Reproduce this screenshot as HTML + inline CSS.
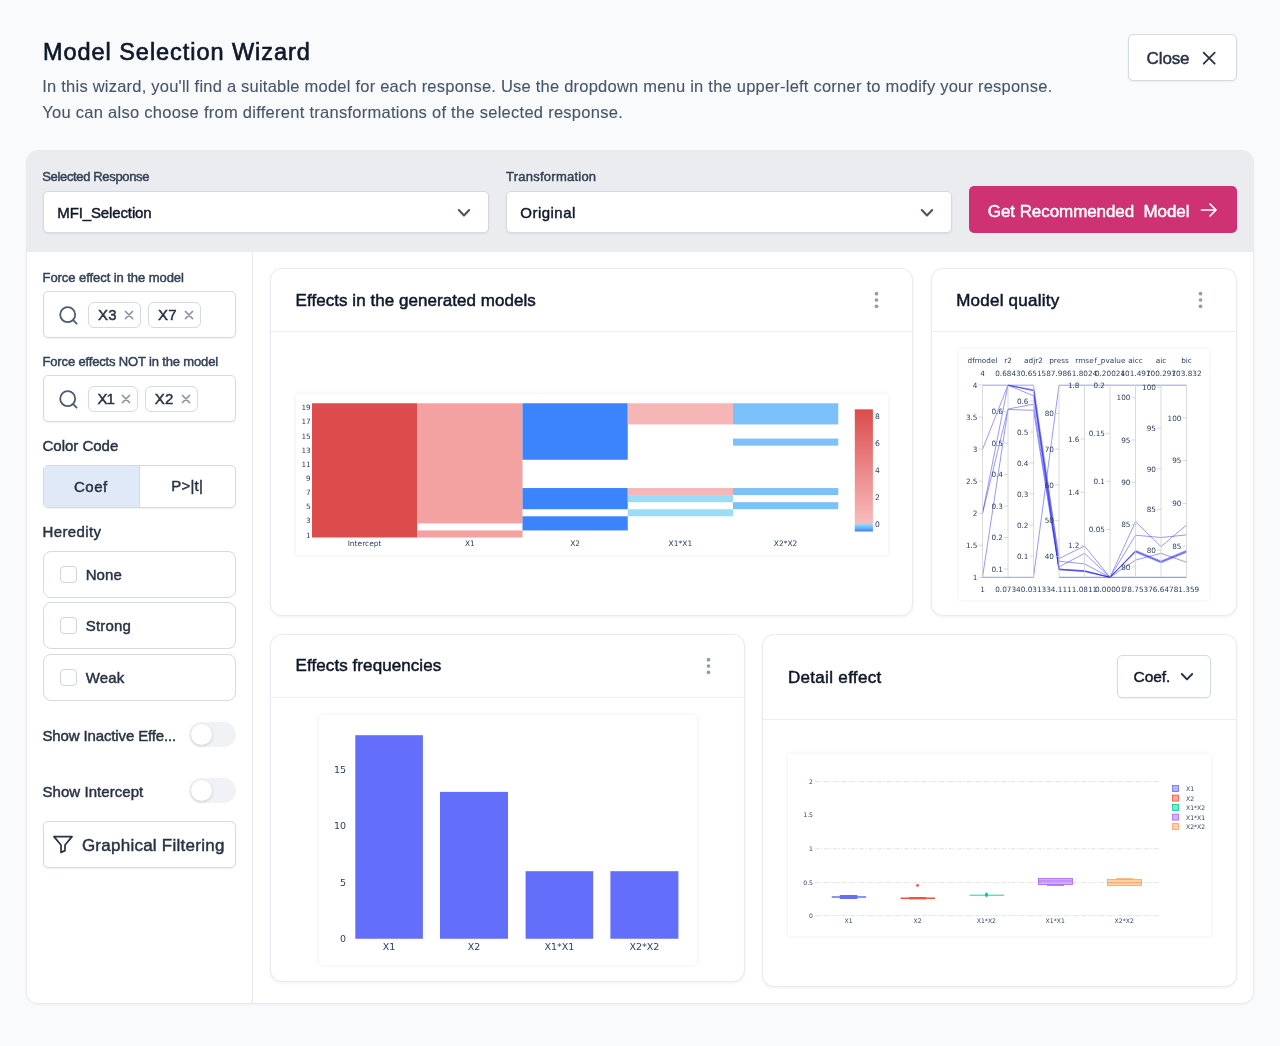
<!DOCTYPE html>
<html lang="en">
<head>
<meta charset="utf-8">
<title>Model Selection Wizard</title>
<style>
*{box-sizing:border-box;margin:0;padding:0}
html,body{width:1280px;height:1046px;overflow:hidden}
body{background:#f9fafb;font-family:"Liberation Sans",sans-serif;color:#273244;position:relative}
.abs{position:absolute}
.t{position:absolute;white-space:nowrap;line-height:1;-webkit-text-stroke:0.45px currentColor}
.title{left:43px;top:40.5px;font-size:23.5px;color:#0f172a;-webkit-text-stroke:0.65px currentColor}
.desc{left:43px;font-size:16.5px;color:#475569;-webkit-text-stroke:0.1px currentColor}
.btn{position:absolute;background:#fff;border:1px solid #d5d9e2;border-radius:5px;box-shadow:0 1px 2px rgba(16,24,40,.06)}
.container{position:absolute;left:26px;top:150px;width:1228px;height:854px;background:#fff;border:1px solid #e8eaef;border-radius:12px;overflow:hidden;box-shadow:0 1px 2px rgba(16,24,40,.04)}
.band{position:absolute;left:0;top:0;width:100%;height:101px;background:#ebecf0}
.side{position:absolute;left:0;top:101px;width:226px;height:753px;border-right:1px solid #e5e7ee;background:#fff}
.lbl{font-size:13px;color:#334155}
.sel{position:absolute;height:42px;background:#fff;border:1px solid #d5d9e2;border-radius:5px;box-shadow:0 1px 2px rgba(16,24,40,.08)}
.card{position:absolute;background:#fff;border:1px solid #e9ebf0;border-radius:12px;box-shadow:0 1px 3px rgba(16,24,40,.07)}
.card .sep{position:absolute;left:0;right:0;height:1px;background:#eceef2}
.ctitle{font-size:17px;color:#0f172a;-webkit-text-stroke:0.5px currentColor}
.chip{position:absolute;height:26px;border:1px solid #d5d9e2;border-radius:6px;background:#fff}
.inp{position:absolute;left:43px;width:193px;height:47px;border:1px solid #d5d9e2;border-radius:5px;background:#fff;box-shadow:0 1px 2px rgba(16,24,40,.06)}
.hbox{position:absolute;left:43px;width:193px;height:47px;border:1px solid #d5d9e2;border-radius:8px;background:#fff}
.cb{position:absolute;left:16px;top:14px;width:17px;height:17px;border:1px solid #cfd4de;border-radius:4px;background:#fff}
.tog{position:absolute;left:189px;width:47px;height:25px;border-radius:13px;background:#f1f2f6}
.tog i{position:absolute;left:2px;top:2px;width:21px;height:21px;border-radius:50%;background:#fff;box-shadow:0 1px 3px rgba(16,24,40,.18)}
.img{position:absolute;background:#fff;box-shadow:0 0 4px rgba(16,24,40,.08)}
svg{position:absolute;overflow:visible}
svg text{font-family:"DejaVu Sans","Liberation Sans",sans-serif;fill:#2a3f5f}
</style>
</head>
<body>

<!-- Header -->
<div class="t title" id="t_title" style="left:43.0px;letter-spacing:0.950px">Model Selection Wizard</div>
<div class="t desc" id="t_d1" style="left:42.3px;top:78px;letter-spacing:0.224px">In this wizard, you'll find a suitable model for each response. Use the dropdown menu in the upper-left corner to modify your response.</div>
<div class="t desc" id="t_d2" style="left:42.3px;top:104px;letter-spacing:0.267px">You can also choose from different transformations of the selected response.</div>

<div class="btn" style="left:1128px;top:34px;width:109px;height:47px"></div>
<div class="t" id="t_close" style="left:1146.6px;top:49.8px;font-size:17px;color:#273244;letter-spacing:-0.136px">Close</div>
<svg style="left:1202px;top:50.5px" width="15" height="15" viewBox="0 0 15 15"><path d="M1.7 1.7 L12.7 12.7 M12.7 1.7 L1.7 12.7" stroke="#273244" stroke-width="1.8" fill="none" stroke-linecap="round"/></svg>

<!-- Container -->
<div class="container">
  <div class="band"></div>
  <div class="side"></div>
</div>

<!-- Band contents (page coords) -->
<div class="t lbl" id="t_sr" style="left:42.3px;top:170px;letter-spacing:-0.353px">Selected Response</div>
<div class="sel" style="left:43px;top:191px;width:446px"></div>
<div class="t" id="t_mfi" style="left:57.3px;top:204.5px;font-size:15px;color:#111827;letter-spacing:-0.126px">MFI_Selection</div>
<svg style="left:457px;top:207.6px" width="14" height="10" viewBox="0 0 14 10"><path d="M1.8 2 L7 7.4 L12.2 2" stroke="#4b5563" stroke-width="2.1" fill="none" stroke-linecap="round" stroke-linejoin="round"/></svg>

<div class="t lbl" id="t_tr" style="left:506.1px;top:170px;letter-spacing:0.236px">Transformation</div>
<div class="sel" style="left:506px;top:191px;width:446px"></div>
<div class="t" id="t_orig" style="left:520.3px;top:204.5px;font-size:15px;color:#111827;letter-spacing:0.475px">Original</div>
<svg style="left:920px;top:207.6px" width="14" height="10" viewBox="0 0 14 10"><path d="M1.8 2 L7 7.4 L12.2 2" stroke="#4b5563" stroke-width="2.1" fill="none" stroke-linecap="round" stroke-linejoin="round"/></svg>

<div class="abs" style="left:969px;top:186px;width:268px;height:47px;background:#cf3273;border-radius:5px"></div>
<div class="t" id="t_get" style="left:987.8px;top:202.5px;font-size:17px;color:#fff;letter-spacing:-0.071px">Get Recommended&nbsp; Model</div>
<svg style="left:1200px;top:202px" width="18" height="16" viewBox="0 0 18 16"><path d="M1.5 8 H16 M10 2 L16 8 L10 14" stroke="#fff" stroke-width="1.7" fill="none" stroke-linecap="round" stroke-linejoin="round"/></svg>

<!-- SIDEBAR -->
<div class="t lbl" id="t_f1" style="left:42.5px;top:271px;letter-spacing:-0.060px">Force effect in the model</div>
<div class="inp" style="top:291px"></div>
<svg style="left:58px;top:305px" width="21" height="21" viewBox="0 0 21 21"><circle cx="9.7" cy="9.7" r="7.5" stroke="#4e5a70" stroke-width="1.8" fill="none"/><path d="M15.2 15.2 L18.6 18.6" stroke="#4e5a70" stroke-width="1.8" stroke-linecap="round"/></svg>
<div class="chip" style="left:88px;top:302px;width:53px"></div>
<div class="t" id="t_x3" style="left:98.0px;top:307px;font-size:15px;color:#273244;letter-spacing:0.196px">X3</div>
<svg style="left:124px;top:310px" width="10" height="10" viewBox="0 0 10 10"><path d="M1.4 1.4 L8.6 8.6 M8.6 1.4 L1.4 8.6" stroke="#8c96a8" stroke-width="1.5" fill="none" stroke-linecap="round"/></svg>
<div class="chip" style="left:148px;top:302px;width:53px"></div>
<div class="t" id="t_x7" style="left:158.1px;top:307px;font-size:15px;color:#273244;letter-spacing:0.195px">X7</div>
<svg style="left:184px;top:310px" width="10" height="10" viewBox="0 0 10 10"><path d="M1.4 1.4 L8.6 8.6 M8.6 1.4 L1.4 8.6" stroke="#8c96a8" stroke-width="1.5" fill="none" stroke-linecap="round"/></svg>

<div class="t lbl" id="t_f2" style="left:42.5px;top:355px;letter-spacing:-0.155px">Force effects NOT in the model</div>
<div class="inp" style="top:375px"></div>
<svg style="left:58px;top:389px" width="21" height="21" viewBox="0 0 21 21"><circle cx="9.7" cy="9.7" r="7.5" stroke="#4e5a70" stroke-width="1.8" fill="none"/><path d="M15.2 15.2 L18.6 18.6" stroke="#4e5a70" stroke-width="1.8" stroke-linecap="round"/></svg>
<div class="chip" style="left:88px;top:386px;width:50px"></div>
<div class="t" id="t_x1" style="left:97.5px;top:391px;font-size:15px;color:#273244;letter-spacing:-0.930px">X1</div>
<svg style="left:121px;top:394px" width="10" height="10" viewBox="0 0 10 10"><path d="M1.4 1.4 L8.6 8.6 M8.6 1.4 L1.4 8.6" stroke="#8c96a8" stroke-width="1.5" fill="none" stroke-linecap="round"/></svg>
<div class="chip" style="left:145px;top:386px;width:53px"></div>
<div class="t" id="t_x2" style="left:154.7px;top:391px;font-size:15px;color:#273244;letter-spacing:0.275px">X2</div>
<svg style="left:181px;top:394px" width="10" height="10" viewBox="0 0 10 10"><path d="M1.4 1.4 L8.6 8.6 M8.6 1.4 L1.4 8.6" stroke="#8c96a8" stroke-width="1.5" fill="none" stroke-linecap="round"/></svg>

<div class="t" id="t_cc" style="left:42.5px;top:438px;font-size:15px;color:#273244;letter-spacing:-0.013px">Color Code</div>
<div class="abs" style="left:43px;top:465px;width:193px;height:43px;border:1px solid #d5d9e2;border-radius:5px;background:#fff;overflow:hidden;box-shadow:0 1px 2px rgba(16,24,40,.06)"><div class="abs" style="left:0;top:0;width:96px;height:100%;background:#dfe9f7;border-right:1px solid #d5d9e2"></div></div>
<div class="t" id="t_coef" style="left:74.0px;top:478.6px;font-size:15px;color:#273244;letter-spacing:0.513px">Coef</div>
<div class="t" id="t_pt" style="left:171.2px;top:478px;font-size:15px;color:#273244;letter-spacing:0.223px">P&gt;|t|</div>

<div class="t" id="t_her" style="left:42.5px;top:524px;font-size:15px;color:#273244;letter-spacing:0.374px">Heredity</div>
<div class="hbox" style="top:551px"><div class="cb"></div></div>
<div class="t" id="t_none" style="left:85.7px;top:567px;font-size:15px;color:#273244;letter-spacing:0.059px">None</div>
<div class="hbox" style="top:602px"><div class="cb"></div></div>
<div class="t" id="t_strong" style="left:85.7px;top:618px;font-size:15px;color:#273244;letter-spacing:0.216px">Strong</div>
<div class="hbox" style="top:654px"><div class="cb"></div></div>
<div class="t" id="t_weak" style="left:85.7px;top:669.5px;font-size:15px;color:#273244;letter-spacing:0.132px">Weak</div>

<div class="t" id="t_sie" style="left:42.5px;top:727.5px;font-size:15px;color:#273244;letter-spacing:-0.134px">Show Inactive Effe...</div>
<div class="tog" style="top:722px"><i></i></div>
<div class="t" id="t_si" style="left:42.5px;top:783.5px;font-size:15px;color:#273244;letter-spacing:0.056px">Show Intercept</div>
<div class="tog" style="top:778px"><i></i></div>

<div class="btn" style="left:43px;top:821px;width:193px;height:47px"></div>
<svg style="left:52px;top:834px" width="22" height="21" viewBox="0 0 22 21"><path d="M2 2.6 H20 L13 11 V16.6 L9 18.4 V11 Z" stroke="#273244" stroke-width="1.7" fill="none" stroke-linejoin="round" stroke-linecap="round"/></svg>
<div class="t" id="t_gf" style="left:81.9px;top:837px;font-size:17px;color:#273244;letter-spacing:0.250px">Graphical Filtering</div>

<!-- MAIN -->
<div class="card" style="left:270px;top:268px;width:643px;height:348px"><div class="sep" style="top:62px"></div></div>
<div class="t ctitle" id="t_c1" style="left:295.6px;top:292px;letter-spacing:0.047px">Effects in the generated models</div>
<svg style="left:874.4px;top:291.1px" width="5" height="18" viewBox="0 0 5 18"><circle cx="2.5" cy="2.7" r="1.85" fill="#959cab"/><circle cx="2.5" cy="9" r="1.85" fill="#959cab"/><circle cx="2.5" cy="15.3" r="1.85" fill="#959cab"/></svg>
<div class="img" style="left:295.5px;top:394px;width:592.5px;height:161px"></div>
<svg style="left:0;top:0" width="1280" height="1046" viewBox="0 0 1280 1046"><rect x="312.00" y="403.25" width="105.25" height="134.25" fill="#dc4c4c"/><rect x="417.25" y="530.43" width="105.25" height="7.07" fill="#f4a1a1"/><rect x="417.25" y="403.25" width="105.25" height="120.12" fill="#f4a1a1"/><rect x="522.50" y="516.30" width="105.25" height="14.13" fill="#3b84fb"/><rect x="522.50" y="488.04" width="105.25" height="21.20" fill="#3b84fb"/><rect x="522.50" y="403.25" width="105.25" height="56.53" fill="#3b84fb"/><rect x="627.75" y="509.24" width="105.25" height="7.07" fill="#9ddcf6"/><rect x="627.75" y="495.11" width="105.25" height="7.07" fill="#9ddcf6"/><rect x="627.75" y="488.04" width="105.25" height="7.07" fill="#f7b6b6"/><rect x="627.75" y="403.25" width="105.25" height="21.20" fill="#f7b6b6"/><rect x="733.00" y="502.17" width="105.25" height="7.07" fill="#7dc1fb"/><rect x="733.00" y="488.04" width="105.25" height="7.07" fill="#7dc1fb"/><rect x="733.00" y="438.58" width="105.25" height="7.07" fill="#7dc1fb"/><rect x="733.00" y="403.25" width="105.25" height="21.20" fill="#7dc1fb"/></svg>
<svg style="left:0;top:0" width="1280" height="1046" viewBox="0 0 1280 1046"><defs><linearGradient id="cbar" x1="0" y1="0" x2="0" y2="1"><stop offset="0" stop-color="#dc4c4c"/><stop offset="0.935" stop-color="#f8bcbc"/><stop offset="0.936" stop-color="#9ddcf6"/><stop offset="0.96" stop-color="#7dc1fb"/><stop offset="1" stop-color="#3b82f6"/></linearGradient></defs><rect x="854.8" y="409.3" width="18.1" height="122.2" fill="url(#cbar)"/><text x="875" y="418.8" font-size="7.6">8</text><text x="875" y="445.7" font-size="7.6">6</text><text x="875" y="472.7" font-size="7.6">4</text><text x="875" y="499.7" font-size="7.6">2</text><text x="875" y="526.8" font-size="7.6">0</text><text x="310.7" y="537.5" font-size="7.3" text-anchor="end">1</text><text x="310.7" y="523.3" font-size="7.3" text-anchor="end">3</text><text x="310.7" y="509.2" font-size="7.3" text-anchor="end">5</text><text x="310.7" y="495.1" font-size="7.3" text-anchor="end">7</text><text x="310.7" y="480.9" font-size="7.3" text-anchor="end">9</text><text x="310.7" y="466.8" font-size="7.3" text-anchor="end">11</text><text x="310.7" y="452.7" font-size="7.3" text-anchor="end">13</text><text x="310.7" y="438.5" font-size="7.3" text-anchor="end">15</text><text x="310.7" y="424.4" font-size="7.3" text-anchor="end">17</text><text x="310.7" y="410.3" font-size="7.3" text-anchor="end">19</text><text x="364.6" y="546" font-size="7.5" text-anchor="middle">Intercept</text><text x="469.9" y="546" font-size="7.5" text-anchor="middle">X1</text><text x="575.1" y="546" font-size="7.5" text-anchor="middle">X2</text><text x="680.4" y="546" font-size="7.5" text-anchor="middle">X1*X1</text><text x="785.6" y="546" font-size="7.5" text-anchor="middle">X2*X2</text></svg>
<div class="card" style="left:930.5px;top:268px;width:306.5px;height:348px"><div class="sep" style="top:62px"></div></div>
<div class="t ctitle" id="t_c2" style="left:956.2px;top:292px;letter-spacing:0.233px">Model quality</div>
<svg style="left:1198.3px;top:291.1px" width="5" height="18" viewBox="0 0 5 18"><circle cx="2.5" cy="2.7" r="1.85" fill="#959cab"/><circle cx="2.5" cy="9" r="1.85" fill="#959cab"/><circle cx="2.5" cy="15.3" r="1.85" fill="#959cab"/></svg>
<div class="img" style="left:958.5px;top:348.5px;width:250px;height:251px"></div>
<svg style="left:0;top:0" width="1280" height="1046" viewBox="0 0 1280 1046"><polyline points="982.5,385.2 1008.0,385.2 1033.5,385.2 1059.0,558.6 1084.5,546 1110.0,577.3 1135.5,521.7 1161.0,546.6 1186.5,525" fill="none" stroke="#2222ee" stroke-width="0.55" stroke-opacity="0.85"/><polyline points="1008.0,385.2 1033.5,389.7 1059.0,567 1084.5,553.3 1110.0,577.3 1135.5,535.2 1161.0,537.5 1186.5,534.9" fill="none" stroke="#2222ee" stroke-width="0.55" stroke-opacity="0.85"/><polyline points="1008.0,385.2 1033.5,390.7 1059.0,561.2 1084.5,563.9 1110.0,577.3 1135.5,550.4 1161.0,561 1186.5,550.4" fill="none" stroke="#2222ee" stroke-width="0.55" stroke-opacity="0.85"/><polyline points="982.5,449.4 1008.0,385.2 1033.5,395.8 1059.0,569.1 1084.5,570.7 1110.0,577.3 1135.5,551.3 1161.0,561.9 1186.5,551.4" fill="none" stroke="#2222ee" stroke-width="0.55" stroke-opacity="0.85"/><polyline points="982.5,513.3 1008.0,385.2 1033.5,390.7 1059.0,569.7 1084.5,571.5 1110.0,577.3 1135.5,552.2 1161.0,562.8 1186.5,552.4" fill="none" stroke="#2222ee" stroke-width="0.55" stroke-opacity="0.85"/><polyline points="982.5,513.3 1008.0,409 1033.5,404.2 1059.0,569.1 1084.5,570.7 1110.0,577.3 1135.5,560.1 1161.0,553.3 1186.5,562.3" fill="none" stroke="#2222ee" stroke-width="0.55" stroke-opacity="0.85"/><polyline points="982.5,577.3 1008.0,409.5 1033.5,410.3 1059.0,569.7 1084.5,571.5 1110.0,577.3 1135.5,551.3 1161.0,561.9 1186.5,551.4" fill="none" stroke="#2222ee" stroke-width="0.55" stroke-opacity="0.85"/><polyline points="982.5,577.3 1008.0,577.3 1033.5,577.3 1059.0,385.2 1084.5,385.2 1110.0,385.2 1135.5,385.2 1161.0,385.2 1186.5,385.2" fill="none" stroke="#2222ee" stroke-width="0.55" stroke-opacity="0.85"/><path d="M1059.0 577.3 H1186.5" stroke="#2222ee" stroke-width="0.6" fill="none"/><path d="M982.5 385.0 V577.4" stroke="#cdcdcd" stroke-width="0.75" fill="none"/><text x="982.5" y="363.4" font-size="7.3" text-anchor="middle">dfmodel</text><text x="982.5" y="376.3" font-size="7.3" text-anchor="middle">4</text><text x="982.5" y="592" font-size="7.3" text-anchor="middle">1</text><path d="M978.5 577.4 H982.5" stroke="#c6c6c6" stroke-width="0.7"/><text x="977.5" y="580.1" font-size="7.3" text-anchor="end">1</text><path d="M978.5 545.3 H982.5" stroke="#c6c6c6" stroke-width="0.7"/><text x="977.5" y="548.0" font-size="7.3" text-anchor="end">1.5</text><path d="M978.5 513.3 H982.5" stroke="#c6c6c6" stroke-width="0.7"/><text x="977.5" y="516.0" font-size="7.3" text-anchor="end">2</text><path d="M978.5 481.2 H982.5" stroke="#c6c6c6" stroke-width="0.7"/><text x="977.5" y="483.9" font-size="7.3" text-anchor="end">2.5</text><path d="M978.5 449.1 H982.5" stroke="#c6c6c6" stroke-width="0.7"/><text x="977.5" y="451.8" font-size="7.3" text-anchor="end">3</text><path d="M978.5 417.1 H982.5" stroke="#c6c6c6" stroke-width="0.7"/><text x="977.5" y="419.8" font-size="7.3" text-anchor="end">3.5</text><path d="M978.5 385.0 H982.5" stroke="#c6c6c6" stroke-width="0.7"/><text x="977.5" y="387.7" font-size="7.3" text-anchor="end">4</text><path d="M1008.0 385.0 V577.4" stroke="#cdcdcd" stroke-width="0.75" fill="none"/><text x="1008.0" y="363.4" font-size="7.3" text-anchor="middle">r2</text><text x="1008.0" y="376.3" font-size="7.3" text-anchor="middle">0.6843</text><text x="1008.0" y="592" font-size="7.3" text-anchor="middle">0.0734</text><path d="M1004.0 569.0 H1008.0" stroke="#c6c6c6" stroke-width="0.7"/><text x="1003.0" y="571.7" font-size="7.3" text-anchor="end">0.1</text><path d="M1004.0 537.5 H1008.0" stroke="#c6c6c6" stroke-width="0.7"/><text x="1003.0" y="540.2" font-size="7.3" text-anchor="end">0.2</text><path d="M1004.0 506.0 H1008.0" stroke="#c6c6c6" stroke-width="0.7"/><text x="1003.0" y="508.7" font-size="7.3" text-anchor="end">0.3</text><path d="M1004.0 474.5 H1008.0" stroke="#c6c6c6" stroke-width="0.7"/><text x="1003.0" y="477.2" font-size="7.3" text-anchor="end">0.4</text><path d="M1004.0 443.0 H1008.0" stroke="#c6c6c6" stroke-width="0.7"/><text x="1003.0" y="445.7" font-size="7.3" text-anchor="end">0.5</text><path d="M1004.0 411.5 H1008.0" stroke="#c6c6c6" stroke-width="0.7"/><text x="1003.0" y="414.2" font-size="7.3" text-anchor="end">0.6</text><path d="M1033.5 385.0 V577.4" stroke="#cdcdcd" stroke-width="0.75" fill="none"/><text x="1033.5" y="363.4" font-size="7.3" text-anchor="middle">adjr2</text><text x="1033.5" y="376.3" font-size="7.3" text-anchor="middle">0.6515</text><text x="1033.5" y="592" font-size="7.3" text-anchor="middle">0.0313</text><path d="M1029.5 556.1 H1033.5" stroke="#c6c6c6" stroke-width="0.7"/><text x="1028.5" y="558.8" font-size="7.3" text-anchor="end">0.1</text><path d="M1029.5 525.1 H1033.5" stroke="#c6c6c6" stroke-width="0.7"/><text x="1028.5" y="527.8" font-size="7.3" text-anchor="end">0.2</text><path d="M1029.5 494.0 H1033.5" stroke="#c6c6c6" stroke-width="0.7"/><text x="1028.5" y="496.7" font-size="7.3" text-anchor="end">0.3</text><path d="M1029.5 463.0 H1033.5" stroke="#c6c6c6" stroke-width="0.7"/><text x="1028.5" y="465.7" font-size="7.3" text-anchor="end">0.4</text><path d="M1029.5 432.0 H1033.5" stroke="#c6c6c6" stroke-width="0.7"/><text x="1028.5" y="434.7" font-size="7.3" text-anchor="end">0.5</text><path d="M1029.5 401.0 H1033.5" stroke="#c6c6c6" stroke-width="0.7"/><text x="1028.5" y="403.7" font-size="7.3" text-anchor="end">0.6</text><path d="M1059.0 385.0 V577.4" stroke="#cdcdcd" stroke-width="0.75" fill="none"/><text x="1059.0" y="363.4" font-size="7.3" text-anchor="middle">press</text><text x="1059.0" y="376.3" font-size="7.3" text-anchor="middle">87.986</text><text x="1059.0" y="592" font-size="7.3" text-anchor="middle">34.111</text><path d="M1055.0 556.4 H1059.0" stroke="#c6c6c6" stroke-width="0.7"/><text x="1054.0" y="559.1" font-size="7.3" text-anchor="end">40</text><path d="M1055.0 520.7 H1059.0" stroke="#c6c6c6" stroke-width="0.7"/><text x="1054.0" y="523.4" font-size="7.3" text-anchor="end">50</text><path d="M1055.0 484.9 H1059.0" stroke="#c6c6c6" stroke-width="0.7"/><text x="1054.0" y="487.6" font-size="7.3" text-anchor="end">60</text><path d="M1055.0 449.2 H1059.0" stroke="#c6c6c6" stroke-width="0.7"/><text x="1054.0" y="451.9" font-size="7.3" text-anchor="end">70</text><path d="M1055.0 413.5 H1059.0" stroke="#c6c6c6" stroke-width="0.7"/><text x="1054.0" y="416.2" font-size="7.3" text-anchor="end">80</text><path d="M1084.5 385.0 V577.4" stroke="#cdcdcd" stroke-width="0.75" fill="none"/><text x="1084.5" y="363.4" font-size="7.3" text-anchor="middle">rmse</text><text x="1084.5" y="376.3" font-size="7.3" text-anchor="middle">1.8024</text><text x="1084.5" y="592" font-size="7.3" text-anchor="middle">1.0811</text><path d="M1080.5 545.7 H1084.5" stroke="#c6c6c6" stroke-width="0.7"/><text x="1079.5" y="548.4" font-size="7.3" text-anchor="end">1.2</text><path d="M1080.5 492.3 H1084.5" stroke="#c6c6c6" stroke-width="0.7"/><text x="1079.5" y="495.0" font-size="7.3" text-anchor="end">1.4</text><path d="M1080.5 439.0 H1084.5" stroke="#c6c6c6" stroke-width="0.7"/><text x="1079.5" y="441.7" font-size="7.3" text-anchor="end">1.6</text><path d="M1080.5 385.6 H1084.5" stroke="#c6c6c6" stroke-width="0.7"/><text x="1079.5" y="388.3" font-size="7.3" text-anchor="end">1.8</text><path d="M1110.0 385.0 V577.4" stroke="#cdcdcd" stroke-width="0.75" fill="none"/><text x="1110.0" y="363.4" font-size="7.3" text-anchor="middle">f_pvalue</text><text x="1110.0" y="376.3" font-size="7.3" text-anchor="middle">0.20024</text><text x="1110.0" y="592" font-size="7.3" text-anchor="middle">0.00001</text><path d="M1106.0 529.4 H1110.0" stroke="#c6c6c6" stroke-width="0.7"/><text x="1105.0" y="532.1" font-size="7.3" text-anchor="end">0.05</text><path d="M1106.0 481.3 H1110.0" stroke="#c6c6c6" stroke-width="0.7"/><text x="1105.0" y="484.0" font-size="7.3" text-anchor="end">0.1</text><path d="M1106.0 433.3 H1110.0" stroke="#c6c6c6" stroke-width="0.7"/><text x="1105.0" y="436.0" font-size="7.3" text-anchor="end">0.15</text><path d="M1106.0 385.2 H1110.0" stroke="#c6c6c6" stroke-width="0.7"/><text x="1105.0" y="387.9" font-size="7.3" text-anchor="end">0.2</text><path d="M1135.5 385.0 V577.4" stroke="#cdcdcd" stroke-width="0.75" fill="none"/><text x="1135.5" y="363.4" font-size="7.3" text-anchor="middle">aicc</text><text x="1135.5" y="376.3" font-size="7.3" text-anchor="middle">101.497</text><text x="1135.5" y="592" font-size="7.3" text-anchor="middle">78.753</text><path d="M1131.5 566.9 H1135.5" stroke="#c6c6c6" stroke-width="0.7"/><text x="1130.5" y="569.6" font-size="7.3" text-anchor="end">80</text><path d="M1131.5 524.6 H1135.5" stroke="#c6c6c6" stroke-width="0.7"/><text x="1130.5" y="527.3" font-size="7.3" text-anchor="end">85</text><path d="M1131.5 482.3 H1135.5" stroke="#c6c6c6" stroke-width="0.7"/><text x="1130.5" y="485.0" font-size="7.3" text-anchor="end">90</text><path d="M1131.5 440.0 H1135.5" stroke="#c6c6c6" stroke-width="0.7"/><text x="1130.5" y="442.7" font-size="7.3" text-anchor="end">95</text><path d="M1131.5 397.7 H1135.5" stroke="#c6c6c6" stroke-width="0.7"/><text x="1130.5" y="400.4" font-size="7.3" text-anchor="end">100</text><path d="M1161.0 385.0 V577.4" stroke="#cdcdcd" stroke-width="0.75" fill="none"/><text x="1161.0" y="363.4" font-size="7.3" text-anchor="middle">aic</text><text x="1161.0" y="376.3" font-size="7.3" text-anchor="middle">100.297</text><text x="1161.0" y="592" font-size="7.3" text-anchor="middle">76.647</text><path d="M1157.0 550.1 H1161.0" stroke="#c6c6c6" stroke-width="0.7"/><text x="1156.0" y="552.8" font-size="7.3" text-anchor="end">80</text><path d="M1157.0 509.4 H1161.0" stroke="#c6c6c6" stroke-width="0.7"/><text x="1156.0" y="512.1" font-size="7.3" text-anchor="end">85</text><path d="M1157.0 468.8 H1161.0" stroke="#c6c6c6" stroke-width="0.7"/><text x="1156.0" y="471.5" font-size="7.3" text-anchor="end">90</text><path d="M1157.0 428.1 H1161.0" stroke="#c6c6c6" stroke-width="0.7"/><text x="1156.0" y="430.8" font-size="7.3" text-anchor="end">95</text><path d="M1157.0 387.4 H1161.0" stroke="#c6c6c6" stroke-width="0.7"/><text x="1156.0" y="390.1" font-size="7.3" text-anchor="end">100</text><path d="M1186.5 385.0 V577.4" stroke="#cdcdcd" stroke-width="0.75" fill="none"/><text x="1186.5" y="363.4" font-size="7.3" text-anchor="middle">bic</text><text x="1186.5" y="376.3" font-size="7.3" text-anchor="middle">103.832</text><text x="1186.5" y="592" font-size="7.3" text-anchor="middle">81.359</text><path d="M1182.5 546.2 H1186.5" stroke="#c6c6c6" stroke-width="0.7"/><text x="1181.5" y="548.9" font-size="7.3" text-anchor="end">85</text><path d="M1182.5 503.4 H1186.5" stroke="#c6c6c6" stroke-width="0.7"/><text x="1181.5" y="506.1" font-size="7.3" text-anchor="end">90</text><path d="M1182.5 460.6 H1186.5" stroke="#c6c6c6" stroke-width="0.7"/><text x="1181.5" y="463.3" font-size="7.3" text-anchor="end">95</text><path d="M1182.5 417.8 H1186.5" stroke="#c6c6c6" stroke-width="0.7"/><text x="1181.5" y="420.5" font-size="7.3" text-anchor="end">100</text></svg>
<div class="card" style="left:270px;top:634px;width:475px;height:348px"><div class="sep" style="top:62px"></div></div>
<div class="t ctitle" id="t_c3" style="left:295.6px;top:656.8px;letter-spacing:0.075px">Effects frequencies</div>
<svg style="left:705.9px;top:656.9px" width="5" height="18" viewBox="0 0 5 18"><circle cx="2.5" cy="2.7" r="1.85" fill="#959cab"/><circle cx="2.5" cy="9" r="1.85" fill="#959cab"/><circle cx="2.5" cy="15.3" r="1.85" fill="#959cab"/></svg>
<div class="img" style="left:318.5px;top:715px;width:378px;height:249.5px"></div>
<svg style="left:0;top:0" width="1280" height="1046" viewBox="0 0 1280 1046"><rect x="355.3" y="735.2" width="67.6" height="203.55" fill="#636efa"/><text x="389.1" y="949.5" font-size="9.5" text-anchor="middle">X1</text><rect x="440" y="791.9" width="68.0" height="146.85" fill="#636efa"/><text x="474.0" y="949.5" font-size="9.5" text-anchor="middle">X2</text><rect x="525.6" y="871.2" width="67.6" height="67.55" fill="#636efa"/><text x="559.4" y="949.5" font-size="9.5" text-anchor="middle">X1*X1</text><rect x="610.4" y="871.2" width="68.0" height="67.55" fill="#636efa"/><text x="644.4" y="949.5" font-size="9.5" text-anchor="middle">X2*X2</text><text x="346" y="942.1" font-size="9.5" text-anchor="end">0</text><text x="346" y="885.6" font-size="9.5" text-anchor="end">5</text><text x="346" y="829.1" font-size="9.5" text-anchor="end">10</text><text x="346" y="772.6" font-size="9.5" text-anchor="end">15</text></svg>
<div class="card" style="left:762px;top:634px;width:475px;height:353px"><div class="sep" style="top:84px"></div></div>
<div class="t ctitle" id="t_c4" style="left:787.9px;top:669px;letter-spacing:0.325px">Detail effect</div>
<div class="btn" style="left:1117px;top:655px;width:94px;height:42.5px"></div>
<div class="t" id="t_coef2" style="left:1133.6px;top:669px;font-size:15.5px;color:#111827;letter-spacing:-0.113px">Coef.</div>
<svg style="left:1180px;top:671.7px" width="14" height="10" viewBox="0 0 14 10"><path d="M1.8 2 L7 7.4 L12.2 2" stroke="#273244" stroke-width="1.9" fill="none" stroke-linecap="round" stroke-linejoin="round"/></svg>
<div class="img" style="left:788px;top:754px;width:423px;height:182px"></div>
<svg style="left:0;top:0" width="1280" height="1046" viewBox="0 0 1280 1046"><path d="M815 781.6 H1160" stroke="#d2d5da" stroke-width="0.7" stroke-dasharray="4.6 1.4 1.4 1.5" fill="none"/><text x="813" y="783.6" font-size="6.1" text-anchor="end">2</text><text x="813" y="817.4" font-size="6.1" text-anchor="end">1.5</text><path d="M815 848.8 H1160" stroke="#d2d5da" stroke-width="0.7" stroke-dasharray="4.6 1.4 1.4 1.5" fill="none"/><text x="813" y="850.8" font-size="6.1" text-anchor="end">1</text><path d="M815 882.6 H1160" stroke="#d2d5da" stroke-width="0.7" stroke-dasharray="4.6 1.4 1.4 1.5" fill="none"/><text x="813" y="884.6" font-size="6.1" text-anchor="end">0.5</text><path d="M815 915.6 H1160" stroke="#d2d5da" stroke-width="0.7" stroke-dasharray="4.6 1.4 1.4 1.5" fill="none"/><text x="813" y="917.6" font-size="6.1" text-anchor="end">0</text><text x="848.6" y="923" font-size="6.1" text-anchor="middle">X1</text><text x="917.5" y="923" font-size="6.1" text-anchor="middle">X2</text><text x="986.4" y="923" font-size="6.1" text-anchor="middle">X1*X2</text><text x="1055.2" y="923" font-size="6.1" text-anchor="middle">X1*X1</text><text x="1124.2" y="923" font-size="6.1" text-anchor="middle">X2*X2</text><rect x="1172.6" y="785.6" width="6" height="6" fill="#636efa" fill-opacity="0.5" stroke="#636efa" stroke-width="0.8"/><text x="1186" y="791.2" font-size="6.1">X1</text><rect x="1172.6" y="795.1" width="6" height="6" fill="#ef553b" fill-opacity="0.5" stroke="#ef553b" stroke-width="0.8"/><text x="1186" y="800.7" font-size="6.1">X2</text><rect x="1172.6" y="804.6" width="6" height="6" fill="#00cc96" fill-opacity="0.5" stroke="#00cc96" stroke-width="0.8"/><text x="1186" y="810.2" font-size="6.1">X1*X2</text><rect x="1172.6" y="814.1" width="6" height="6" fill="#ab63fa" fill-opacity="0.5" stroke="#ab63fa" stroke-width="0.8"/><text x="1186" y="819.7" font-size="6.1">X1*X1</text><rect x="1172.6" y="823.6" width="6" height="6" fill="#ffa15a" fill-opacity="0.5" stroke="#ffa15a" stroke-width="0.8"/><text x="1186" y="829.2" font-size="6.1">X2*X2</text><path d="M831.7 897 H866.1" stroke="#636efa" stroke-width="1.6"/><rect x="839.8" y="895" width="17.6" height="4" fill="#636efa"/><path d="M900.6 898.2 H935" stroke="#ef553b" stroke-width="1.5"/><rect x="909" y="897" width="17" height="2.4" fill="#ef553b"/><circle cx="917.5" cy="885.4" r="1.4" fill="#ef553b"/><path d="M969.5 895.2 H1004" stroke="#00cc96" stroke-width="0.9"/><ellipse cx="986.5" cy="894.8" rx="1.5" ry="2.3" fill="#00cc96"/><rect x="1038.4" y="878.4" width="34" height="6.2" fill="#ab63fa" fill-opacity="0.5" stroke="#ab63fa" stroke-width="0.8"/><path d="M1038.4 881 H1072.4" stroke="#ab63fa" stroke-width="0.8"/><rect x="1047" y="884.6" width="17" height="1.2" fill="#ab63fa"/><rect x="1107.4" y="879.5" width="34" height="6.2" fill="#ffa15a" fill-opacity="0.5" stroke="#ffa15a" stroke-width="0.8"/><path d="M1107.4 882.6 H1141.4" stroke="#ffa15a" stroke-width="0.8"/><rect x="1116" y="878.3" width="17" height="1.2" fill="#ffa15a"/></svg>
<!-- /MAIN -->

</body>
</html>
